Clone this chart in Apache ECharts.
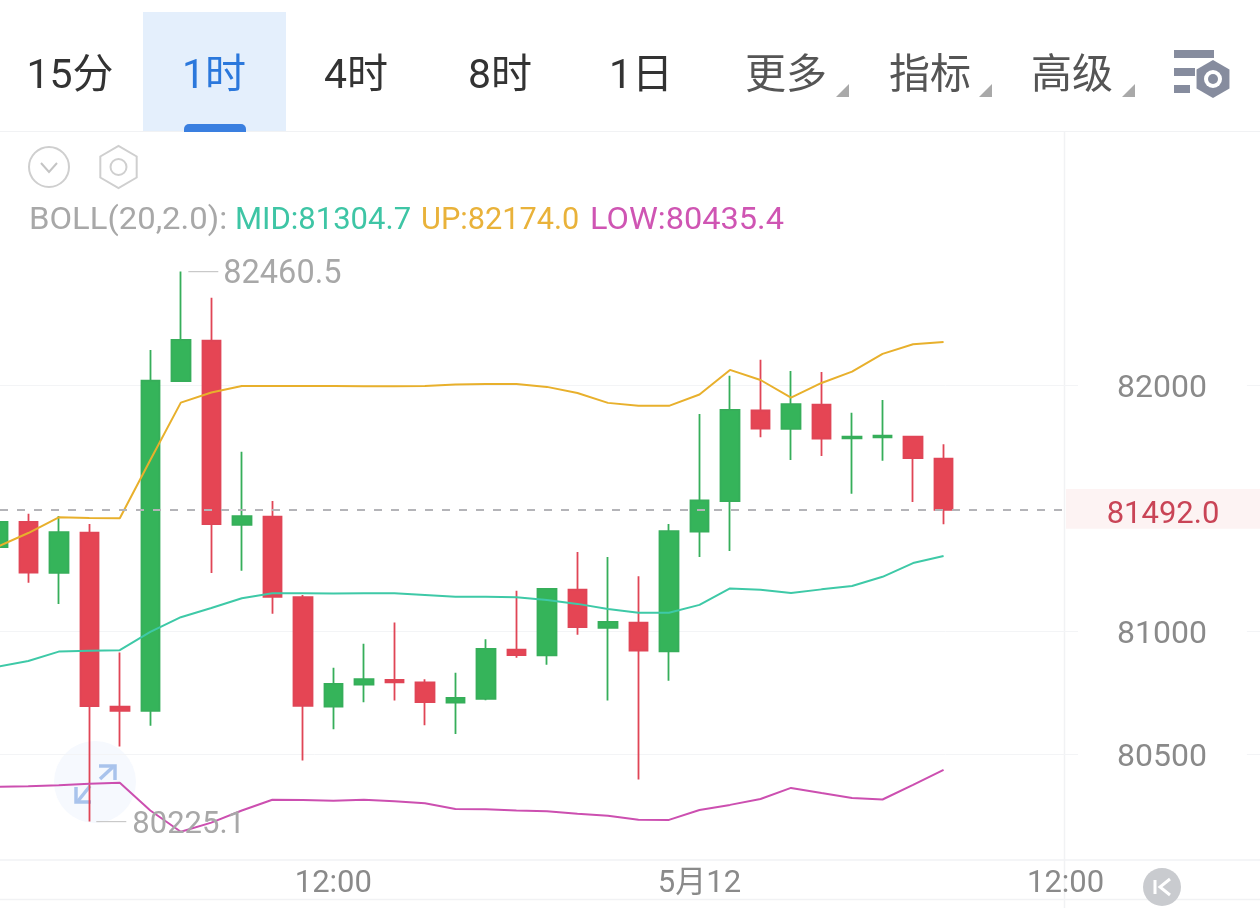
<!DOCTYPE html>
<html><head><meta charset="utf-8">
<style>html,body{margin:0;padding:0;background:#fff}#c{width:1260px;height:908px}</style>
<script src="https://cdn.jsdelivr.net/npm/echarts@6/dist/echarts.min.js"></script>
</head><body><div id="c"></div>
<script>
const hours = [1,2,3,4,5,6,7,8,9,10,11,12,13,14,15,16,17,18,19,20,21,22,23,0,1,2,3,4,5,6,7,8,9,10,11,12,13,14,15,16,17,18];
const categories = hours.map((h,i)=> (i===23 ? '5月12' : String(h).padStart(2,'0')+':00'));
const xLabelIndexes = [11,23,35];
const yTicks = [80500,81000,82000];
const lastPrice = 81492.0;
const highest = 82460.5;
const lowest = 80225.1;
// open, close, low, high
const candles = [
[81341,81443,81337,81443],[81443,81237,81196,81476],[81236,81402,81110,81467],[81400,80695,80225.1,81435],
[80692,80675,80530,80912],[80675,82017,80615,82142],[82016,82183,82012,82460.5],[82180,81434,81236,82354],
[81431,81467,81245,81728],[81465,81139,81070,81528],[81137,80696,80473,81146],[80692,80785,80600,80850],
[80782,80804,80710,80948],[80801,80791,80717,81034],[80791,80711,80617,80804],[80709,80728,80581,80830],
[80724,80927,80718,80966],[80924,80902,80891,81163],[80901,81171,80863,81174],[81168,81016,80985,81321],
[81013,81037,80717,81301],[81034,80920,80396,81222],[80917,81406,80798,81435],[81404,81531,81301,81882],
[81528,81898,81325,82037],[81896,81822,81787,82102],[81821,81922,81695,82057],[81920,81782,81711,82053],
[81783,81790,81558,81887],[81787,81794,81692,81939],[81790,81703,81524,81790],[81700,81492,81434,81759]
];
const bollUp = [81343,81398,81462,81459,81458,81695,81928,81969,81996,81996,81996,81996,81995,81995,81996,82002,82004,82004,81992,81967,81927,81915,81915,81961,82061,82020,81948,82008,82054,82126,82165,82174.0];
const bollMid = [80855,80878,80916,80920,80922,80996,81056,81093,81133,81153,81153,81152,81153,81153,81146,81139,81139,81137,81126,81110,81089,81074,81074,81106,81173,81167,81154,81169,81183,81220,81276,81304.7];
const bollLow = [80367,80369,80373,80379,80383,80270,80184,80221,80270,80314,80313,80310,80314,80308,80300,80276,80275,80270,80267,80257,80249,80233,80232,80272,80293,80317,80362,80341,80321,80315,80374,80435.4];

const FF = 'Roboto, "Noto Sans CJK SC", sans-serif';
const tabs = [['15分',70,'#333'],['1时',214,'#2b78dc'],['4时',356,'#333'],['8时',500,'#333'],['1日',641,'#333'],['更多',786,'#555'],['指标',930,'#555'],['高级',1072,'#555']];
const legendBits = [['BOLL(20,2.0):',29,'#a8a8a8',1.06],['MID:81304.7',235,'#3ec5a5',1.0],['UP:82174.0',421,'#e9b23a',0.99],['LOW:80435.4',590,'#cf55b3',1.05]];

function hex(cx,cy,r){const p=[];for(let i=0;i<6;i++){const a=Math.PI/6+i*Math.PI/3;p.push([cx+r*Math.cos(a),cy+r*Math.sin(a)]);}return p;}
const line=(x1,y1,x2,y2,c,w,z)=>({type:'line',z:z||0,silent:true,shape:{x1,y1,x2,y2},style:{stroke:c,lineWidth:w||1}});
const poly=(pts,c,w,z)=>({type:'polyline',z:z||10,silent:true,shape:{points:pts},style:{stroke:c,lineWidth:w||2,fill:null}});
const g=[];
g.push({type:'rect',z:1,silent:true,shape:{x:143,y:12,width:143,height:119},style:{fill:'#e4effc'}});
g.push({type:'rect',z:2,silent:true,shape:{x:184,y:124,width:62,height:8,r:[5,5,0,0]},style:{fill:'#3a7fe0'}});
g.push(line(0,131.5,1260,131.5,'#f1f2f4',1,0));
g.push(line(1064.5,132,1064.5,908,'#f1f2f4',1.5,0));
g.push(line(0,899.5,1260,899.5,'#f1f2f4',1.5,0));
tabs.forEach(t=>g.push({type:'text',z:5,silent:true,style:{text:t[0],x:t[1],y:78,font:'41px '+FF,fill:t[2],textAlign:'center',textVerticalAlign:'middle'}}));
[849,992,1135].forEach(x=>g.push({type:'polygon',z:5,silent:true,shape:{points:[[x,84],[x,97],[x-13,97]]},style:{fill:'#a9a9a9'}}));
legendBits.forEach(t=>g.push({type:'text',z:5,silent:true,x:t[1],y:221,scaleX:t[3],style:{text:t[0],x:0,y:0,font:'31px '+FF,fill:t[2],textAlign:'left',textVerticalAlign:'middle'}}));
// top-right icon
const ic='#868c9e';
[[1174,50,40],[1174,68,21],[1174,85,16]].forEach(b=>g.push({type:'rect',z:5,silent:true,shape:{x:b[0],y:b[1],width:b[2],height:8},style:{fill:ic}}));
g.push({type:'polygon',z:5,silent:true,shape:{points:hex(1213,79,19)},style:{fill:ic}});
g.push({type:'circle',z:6,silent:true,shape:{cx:1213,cy:79,r:9},style:{fill:'#fff'}});
g.push({type:'circle',z:7,silent:true,shape:{cx:1213,cy:79,r:5},style:{fill:ic}});
// small round icons
g.push({type:'circle',z:5,silent:true,shape:{cx:49,cy:167,r:20},style:{fill:'#fff',stroke:'#cfcfcf',lineWidth:2}});
g.push(poly([[41,163],[49,172],[57,163]],'#c4c4c4',2,6));
g.push({type:'polygon',z:5,silent:true,shape:{points:hex(118.5,167,21)},style:{fill:'#fff',stroke:'#cfcfcf',lineWidth:2}});
g.push({type:'circle',z:6,silent:true,shape:{cx:118.5,cy:167,r:8},style:{fill:'#fff',stroke:'#cfcfcf',lineWidth:2}});
// floating expand widget
g.push({type:'circle',z:0,silent:true,shape:{cx:95,cy:782,r:41},style:{fill:'#f6f9fe'}});
const ar='#a9c3ec';
g.push(poly([[100,779],[114,766]],ar,3.5,1));
g.push(poly([[99,766],[115,766],[115,780]],ar,3.5,1));
g.push(poly([[90,786],[78,801]],ar,3.5,1));
g.push(poly([[76,787],[76,802],[91,802]],ar,3.5,1));
// K button
g.push({type:'circle',z:5,silent:true,shape:{cx:1162,cy:887,r:19},style:{fill:'#c9cbcf'}});
g.push(line(1155,880,1155,894,'#fff',3,6));
g.push(poly([[1170,879],[1160,887],[1170,895]],'#fff',3,6));

const option = {
  animation:false,
  backgroundColor:'#fff',
  textStyle:{fontFamily:FF},
  grid:{left:-17.5,top:132,width:30.51*42,height:728,containLabel:false,outerBoundsMode:'none'},
  xAxis:{type:'category',data:categories,boundaryGap:true,
    axisLine:{show:true,lineStyle:{color:'#f1f2f4',width:1.5}},
    axisTick:{show:false},splitLine:{show:false},
    axisLabel:{show:true,margin:9,fontSize:31,color:'#8a8a8a',fontFamily:FF,hideOverlap:false,
      interval:(i)=>xLabelIndexes.includes(i)}},
  yAxis:{type:'value',position:'right',min:80069,max:83028,scale:true,
    axisLine:{show:false},
    axisTick:{show:false,customValues:yTicks},
    splitLine:{show:true,lineStyle:{color:'#f3f4f6',width:1}},
    axisLabel:{show:true,inside:true,customValues:yTicks,margin:17,color:'#8a8a8a',fontFamily:FF,align:'right',
      backgroundColor:'#fff',padding:[2,40,2,39],formatter:v=>'{a|'+v+'}',
      rich:{a:{fontSize:32,color:'#8a8a8a',fontFamily:FF,padding:[8,0,0,0]}}}},
  graphic:g,
  series:[
    {type:'candlestick',name:'K',data:candles,barWidth:19,z:3,
      itemStyle:{color:'#35b45a',color0:'#e54554',borderColor:'#36ae5a',borderColor0:'#e04556',borderWidth:1.8},
      markPoint:{silent:true,animation:false,symbol:'rect',symbolSize:[30,1.2],
        itemStyle:{color:'#c9c9c9'},
        data:[
          {coord:[6,highest],symbolOffset:[22.5,0],value:highest,
            label:{show:true,position:'right',distance:5,offset:[0,3],formatter:String(highest),fontSize:32.5,color:'#a8a8a8',fontFamily:FF}},
          {coord:[3,lowest],symbolOffset:[22,0],value:lowest,
            label:{show:true,position:'right',distance:6,offset:[0,4],formatter:String(lowest),fontSize:31,color:'#a8a8a8',fontFamily:FF}}
        ]},
      markLine:{silent:true,animation:false,symbol:'none',label:{show:false},
        lineStyle:{color:'#b4b4b8',type:[8,9],width:2},
        data:[[{x:0,yAxis:lastPrice},{x:1064,yAxis:lastPrice}]]},
      markArea:{silent:true,animation:false,itemStyle:{color:'#fdf3f3'},
        label:{show:true,position:'inside',offset:[0,6],formatter:lastPrice.toFixed(1),fontSize:31,color:'#c94456',fontFamily:FF},
        data:[[{x:1066,yAxis:81577},{x:1260,yAxis:81415}]]}
    },
    {type:'line',name:'UP',data:bollUp,symbol:'none',z:4,lineStyle:{color:'#e8b02c',width:2}},
    {type:'line',name:'MID',data:bollMid,symbol:'none',z:4,lineStyle:{color:'#3ec9a7',width:2}},
    {type:'line',name:'LOW',data:bollLow,symbol:'none',z:4,lineStyle:{color:'#cc4fb0',width:2}}
  ]
};
const chart = echarts.init(document.getElementById('c'),null,{renderer:'canvas'});
chart.setOption(option);
</script></body></html>
